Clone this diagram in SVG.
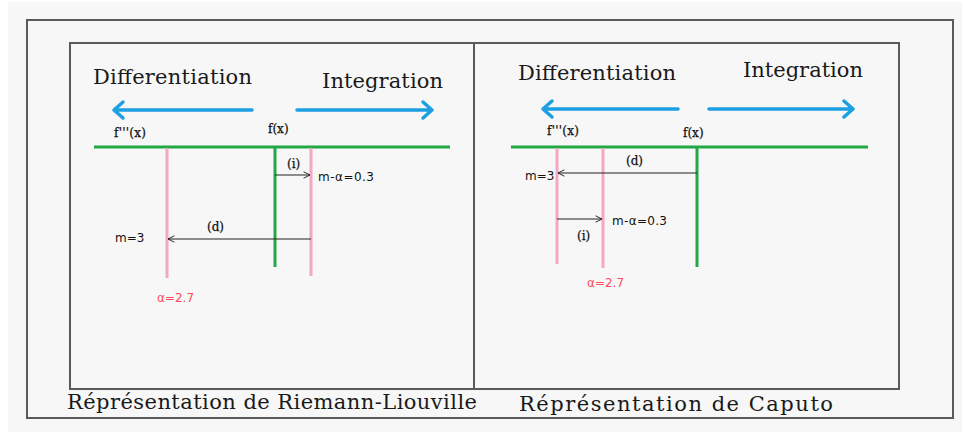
<svg xmlns="http://www.w3.org/2000/svg" width="963" height="436" viewBox="0 0 963 436">
  <defs>
    <marker id="open-head" viewBox="0 0 10 10" refX="9" refY="5" markerWidth="8" markerHeight="8" markerUnits="userSpaceOnUse" orient="auto">
      <path d="M1,1 L9,5 L1,9" fill="none" stroke="#222" stroke-width="1.2"/>
    </marker>
  </defs>
  <style>
    .frame { fill: none; stroke: #5a5a5a; stroke-width: 2; }
    .title { font-family: "DejaVu Serif", "Liberation Serif", serif; font-size: 21px; fill: #1a1a1a; }
    .caption { font-family: "DejaVu Serif", "Liberation Serif", serif; font-size: 21px; fill: #1a1a1a; }
    .fn { font-family: "DejaVu Serif", "Liberation Serif", serif; font-size: 12px; fill: #111; stroke: #111; stroke-width: 0.25; }
    .val { font-family: "DejaVu Sans", "Liberation Sans", sans-serif; font-size: 12px; fill: #111; }
    .alpha { font-family: "DejaVu Sans", "Liberation Sans", sans-serif; font-size: 12px; fill: #ff4b5a; }
    .dir { fill: none; stroke: #1d9fe4; stroke-width: 3.5; stroke-linecap: round; stroke-linejoin: round; }
    .axis { stroke: #22a845; stroke-width: 3; }
    .order { stroke: #f4a6c2; stroke-width: 3; }
    .step { stroke: #222; stroke-width: 1.2; fill: none; marker-end: url(#open-head); }
  </style>

  <!-- page -->
  <rect x="0" y="0" width="963" height="436" fill="#ffffff"/>
  <rect x="8" y="2" width="954" height="430" fill="#f7f7f7"/>

  <!-- frames -->
  <rect class="frame" x="27" y="20" width="926" height="398"/>
  <rect class="frame" x="70" y="43" width="829" height="346"/>
  <line class="frame" x1="474" y1="43" x2="474" y2="389"/>

  <!-- Riemann-Liouville panel -->
  <g id="riemann-liouville">
    <text class="title" x="93" y="84" textLength="159">Differentiation</text>
    <text class="title" x="322" y="88" textLength="121">Integration</text>
    <path class="dir" d="M252,110 H114 M123,102 L114,110 L123,118"/>
    <path class="dir" d="M297,110 H432 M423,102 L432,110 L423,118"/>
    <text class="fn" x="114" y="137" textLength="32">f'''(x)</text>
    <text class="fn" x="268" y="133">f(x)</text>
    <line class="axis" x1="94" y1="147" x2="450" y2="147"/>
    <line class="order" x1="167" y1="148" x2="167" y2="278"/>
    <line class="axis" x1="275" y1="147" x2="275" y2="267"/>
    <line class="order" x1="311" y1="148" x2="311" y2="276"/>
    <text class="fn" x="287" y="168">(i)</text>
    <text class="val" x="318" y="181" textLength="56">m-α=0.3</text>
    <text class="fn" x="207" y="231">(d)</text>
    <text class="val" x="115" y="242">m=3</text>
    <text class="alpha" x="157" y="302">α=2.7</text>
    <text class="caption" x="67" y="409" textLength="410">Réprésentation de Riemann-Liouville</text>
  </g>

  <!-- Caputo panel -->
  <g id="caputo">
    <text class="title" x="518" y="80" textLength="158">Differentiation</text>
    <text class="title" x="743" y="77" textLength="120">Integration</text>
    <path class="dir" d="M678,109 H543 M552,101 L543,109 L552,117"/>
    <path class="dir" d="M709,109 H853 M844,101 L853,109 L844,117"/>
    <text class="fn" x="547" y="135" textLength="32">f'''(x)</text>
    <text class="fn" x="683" y="137">f(x)</text>
    <line class="axis" x1="511" y1="147" x2="868" y2="147"/>
    <line class="order" x1="557" y1="148" x2="557" y2="264"/>
    <line class="order" x1="603" y1="148" x2="603" y2="268"/>
    <line class="axis" x1="697" y1="147" x2="697" y2="267"/>
    <text class="fn" x="626" y="165">(d)</text>
    <text class="val" x="525" y="180">m=3</text>
    <text class="val" x="612" y="225" textLength="55">m-α=0.3</text>
    <text class="fn" x="577" y="240">(i)</text>
    <text class="alpha" x="587" y="287">α=2.7</text>
    <text class="caption" x="519" y="411" textLength="314">Réprésentation de Caputo</text>
  </g>

  <!-- step connectors -->
  <g id="connectors">
    <line class="step" x1="275" y1="175" x2="310" y2="175"/>
    <line class="step" x1="311" y1="239" x2="168" y2="239"/>
    <line class="step" x1="697" y1="173" x2="558" y2="173"/>
    <line class="step" x1="557" y1="219" x2="602" y2="219"/>
  </g>
</svg>
